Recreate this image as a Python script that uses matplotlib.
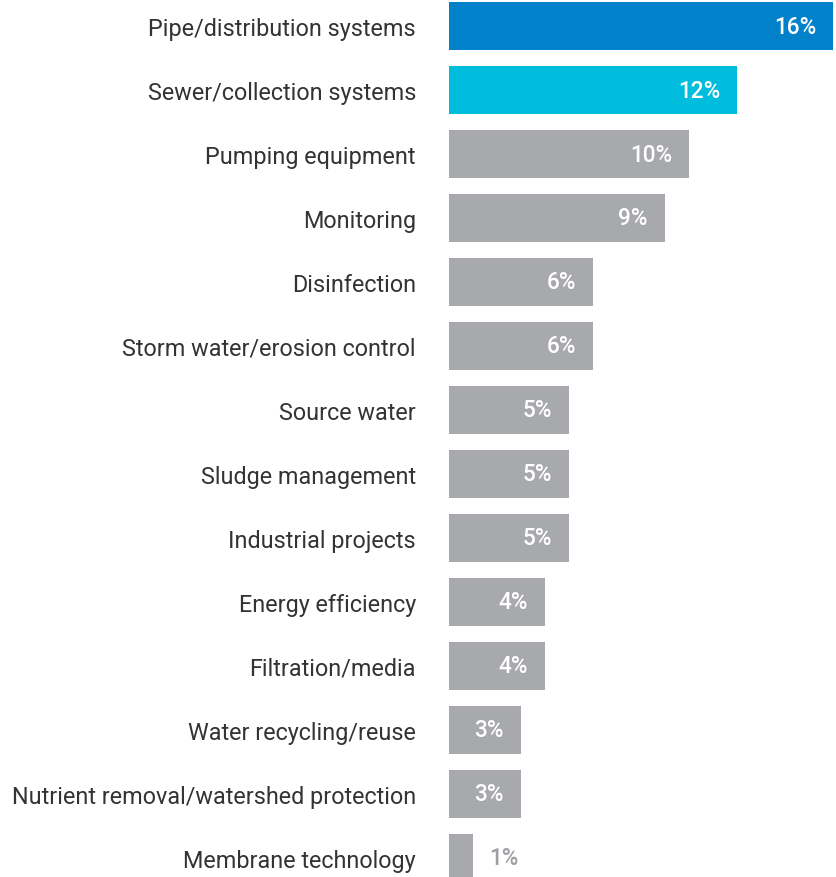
import matplotlib
matplotlib.use("Agg")
import matplotlib.pyplot as plt

categories = ["Pipe/distribution systems", "Sewer/collection systems", "Pumping equipment",
              "Monitoring", "Disinfection", "Storm water/erosion control", "Source water",
              "Sludge management", "Industrial projects", "Energy efficiency",
              "Filtration/media", "Water recycling/reuse",
              "Nutrient removal/watershed protection", "Membrane technology"]
values = [16, 12, 10, 9, 6, 6, 5, 5, 5, 4, 4, 3, 3, 1]
value_labels = ["16%", "12%", "10%", "9%", "6%", "6%", "5%", "5%", "5%", "4%", "4%", "3%", "3%", "1%"]

colors = ["#0081C9", "#00BCDD"] + ["#A7A9AC"] * (len(values) - 2)

W, H = 837, 878
fig = plt.figure(figsize=(W / 100, H / 100), dpi=100)
ax = fig.add_axes([449 / W, 0, 1 - 449 / W, 1])

ypos = list(range(len(values)))
ax.barh(ypos, values, height=0.75, color=colors)
ax.set_xlim(0, (W - 449) / 24)
ax.set_ylim((H - 27) / 64, -27 / 64)

ax.set_yticks(ypos)
ax.set_yticklabels(categories, fontsize=16.8, fontfamily="Roboto", fontweight="normal",
                   color="#333333")
for t in ax.get_yticklabels():
    t.set_y(t.get_position()[1])
ax.tick_params(axis="y", length=0, pad=33 * 0.72)
ax.set_xticks([])
for s in ax.spines.values():
    s.set_visible(False)

for y, v, lab in zip(ypos, values, value_labels):
    if v >= 2:
        ax.annotate(lab, (v, y), xytext=(-17 * 0.72, 0), textcoords="offset points",
                    ha="right", va="center", color="white", fontsize=16.3,
                    fontfamily="Roboto", fontweight="medium")
    else:
        ax.annotate(lab, (v, y), xytext=(16 * 0.72, 0), textcoords="offset points",
                    ha="left", va="center", color="#9D9FA2", fontsize=16.3,
                    fontfamily="Roboto", fontweight="medium")

fig.savefig("out.png", dpi=100)
